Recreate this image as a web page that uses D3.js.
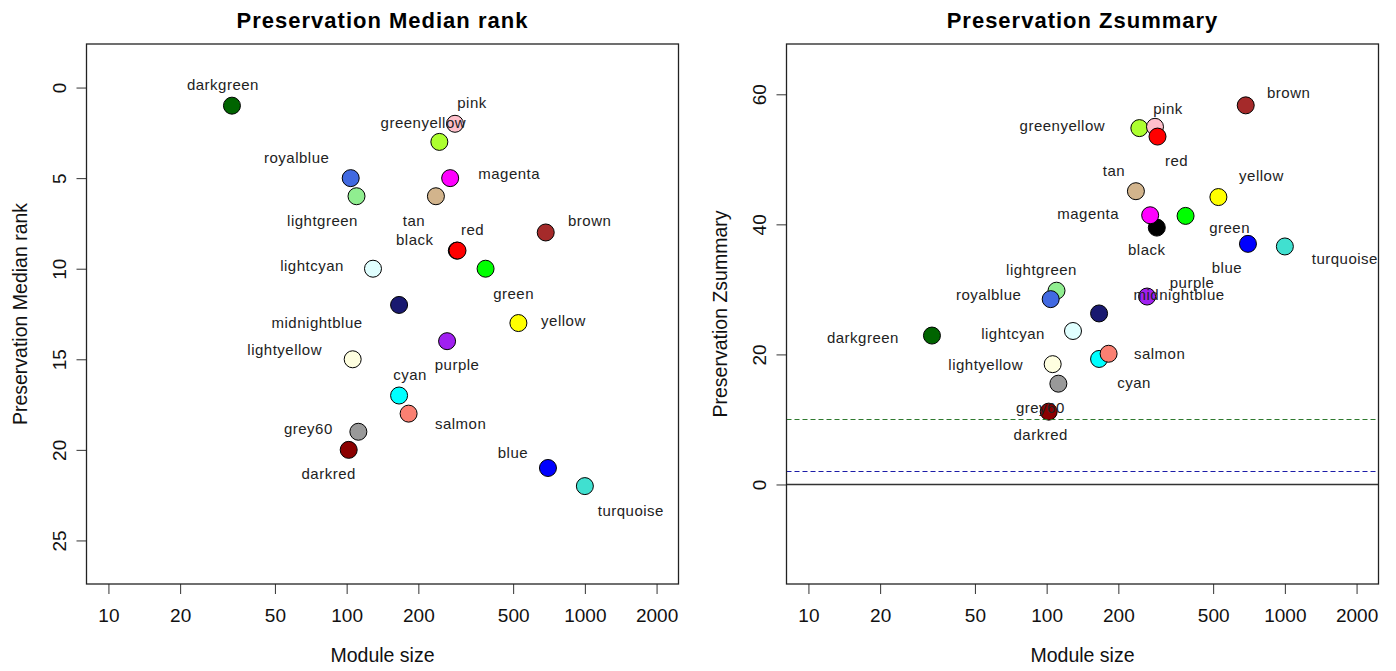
<!DOCTYPE html>
<html>
<head>
<meta charset="utf-8">
<script src="https://cdn.jsdelivr.net/npm/d3@7"></script>
<style>
  html, body { margin: 0; padding: 0; background: #fff; }
  svg { display: block; font-family: "Liberation Sans", Arial, Helvetica, sans-serif; }
</style>
</head>
<body>
<svg id="chart" width="1396" height="671"></svg>
<script>
// ---- data: module preservation statistics (rows in alphabetical module order) ----
const modules = ["black", "blue", "brown", "cyan", "darkgreen", "darkred", "green", "greenyellow",
  "grey60", "lightcyan", "lightgreen", "lightyellow", "magenta", "midnightblue", "pink", "purple",
  "red", "royalblue", "salmon", "tan", "turquoise", "yellow"];
const moduleSizes = [290, 700, 685, 166, 33, 102, 383, 245, 112, 129, 110, 106, 272, 166, 285, 264,
  292, 104, 182, 237, 1000, 526];
const medianRank = [9, 21, 8, 17, 1, 20, 10, 3, 19, 10, 6, 15, 5, 12, 2, 14, 9, 5, 18, 6, 22, 13];
const zSummary = [39.5, 37.0, 58.3, 19.3, 22.9, 11.2, 41.3, 54.8, 15.5, 23.6, 29.8, 18.5, 41.4, 26.3,
  55.0, 28.9, 53.5, 28.5, 20.1, 45.1, 36.6, 44.2];

// axis ticks and limits
const sizeTicks = [10, 20, 50, 100, 200, 500, 1000, 2000];
const sizeLimits = [10, 2000];
const rankTicks = [0, 5, 10, 15, 20, 25];
const rankLimits = [-1.3, 26.3];
const zTicks = [0, 20, 40, 60];
const zLimits = [-12.23, 64.66];
const zReferenceLines = [0, 2, 10];

// ---- presentation ----
// R colour names used for the module fills
const rColors = {
  black: "#000000", blue: "#0000FF", brown: "#A52A2A", cyan: "#00FFFF", darkgreen: "#006400",
  darkred: "#8B0000", green: "#00FF00", greenyellow: "#ADFF2F", grey60: "#999999",
  lightcyan: "#E0FFFF", lightgreen: "#90EE90", lightyellow: "#FFFFE0", magenta: "#FF00FF",
  midnightblue: "#191970", pink: "#FFC0CB", purple: "#A020F0", red: "#FF0000",
  royalblue: "#4169E1", salmon: "#FA8072", tan: "#D2B48C", turquoise: "#40E0D0", yellow: "#FFFF00"
};
const refLineStyle = {
  0: { color: "#333", dash: null, width: 1.4 },
  2: { color: "#1c1ca8", dash: "5,3", width: 1.2 },
  10: { color: "#2f7a2f", dash: "5,3", width: 1.2 }
};
// text placement around each point (pixel offsets of the label centre)
const rankLabelOffsets = {
  darkgreen: [-9, -20], pink: [17, -21], greenyellow: [-16, -19], royalblue: [-54, -20],
  magenta: [59, -4], lightgreen: [-34, 25], tan: [-22, 25], brown: [44, -11], red: [15, -20],
  black: [-42, -10], lightcyan: [-61, -3], green: [28, 25], midnightblue: [-82, 18],
  yellow: [45, -2], lightyellow: [-68, -9], purple: [10, 24], cyan: [11, -20], salmon: [52, 11],
  grey60: [-50, -3], darkred: [-20, 24], blue: [-35, -15], turquoise: [46, 25]
};
const zLabelOffsets = {
  brown: [43, -12], pink: [13, -18], greenyellow: [-77, -2], red: [19, 25], tan: [-22, -20],
  yellow: [43, -21], magenta: [-62, -1], green: [44, 12], black: [-10, 23], blue: [-21, 24],
  turquoise: [60, 13], lightgreen: [-15, -20], royalblue: [-62, -4], purple: [45, -13],
  midnightblue: [80, -18], lightcyan: [-60, 3], darkgreen: [-69, 3], salmon: [51, 0],
  cyan: [35, 24], lightyellow: [-67, 1], grey60: [-18, 25], darkred: [-8, 24]
};

const svg = d3.select("#chart");
svg.append("rect").attr("width", 1396).attr("height", 671).attr("fill", "#fff");

// R-style 4% axis extension
function extend(lim) {
  const d = (lim[1] - lim[0]) * 0.04;
  return [lim[0] - d, lim[1] + d];
}
function extendLog(lim) {
  const l = extend([Math.log10(lim[0]), Math.log10(lim[1])]);
  return [Math.pow(10, l[0]), Math.pow(10, l[1])];
}

const box = { left: 86.5, right: 678.5, top: 44, bottom: 584 };

function drawPanel(opts) {
  const g = svg.append("g").attr("transform", `translate(${opts.x0},0)`);
  const x = d3.scaleLog().domain(extendLog(sizeLimits)).range([box.left, box.right]);
  const yDom = extend(opts.limits);
  const y = d3.scaleLinear().domain(yDom)
    .range(opts.reversed ? [box.top, box.bottom] : [box.bottom, box.top]);
  const cx = (box.left + box.right) / 2;
  const cy = (box.top + box.bottom) / 2;

  // title
  g.append("text").attr("x", cx).attr("y", 27.7).attr("text-anchor", "middle")
    .attr("font-size", 22).attr("font-weight", "bold").attr("letter-spacing", 1)
    .attr("fill", "#000").text(opts.title);

  // x axis
  const xa = g.append("g").attr("transform", `translate(0,${box.bottom})`)
    .call(d3.axisBottom(x).tickValues(sizeTicks).tickFormat(d3.format("d"))
      .tickSize(10).tickPadding(15));
  xa.select(".domain").remove();
  xa.selectAll(".tick line").attr("stroke", "#333");
  xa.selectAll(".tick text").attr("font-size", 19).attr("fill", "#111")
    .attr("font-family", "'Liberation Sans', Arial, sans-serif");

  // y axis with labels parallel to the axis
  const ya = g.append("g").attr("transform", `translate(${box.left},0)`)
    .call(d3.axisLeft(y).tickValues(opts.ticks).tickFormat(d3.format("d")).tickSize(10));
  ya.select(".domain").remove();
  ya.selectAll(".tick line").attr("stroke", "#333");
  ya.selectAll(".tick text").attr("x", null).attr("dy", null)
    .attr("text-anchor", "middle").attr("transform", "translate(-21,0) rotate(-90)")
    .attr("font-size", 19).attr("fill", "#111")
    .attr("font-family", "'Liberation Sans', Arial, sans-serif");

  // axis titles
  g.append("text").attr("x", cx).attr("y", 662).attr("text-anchor", "middle")
    .attr("font-size", 19.5).attr("fill", "#111").text("Module size");
  g.append("text").attr("transform", `translate(26.7,${cy}) rotate(-90)`)
    .attr("text-anchor", "middle").attr("font-size", 19.5).attr("fill", "#111")
    .text(opts.title);

  const rows = modules.map((m, i) => ({ name: m, size: moduleSizes[i], value: opts.values[i] }));

  // points
  g.append("g").selectAll("circle").data(rows).join("circle")
    .attr("cx", d => x(d.size)).attr("cy", d => y(d.value)).attr("r", 8.5)
    .attr("fill", d => rColors[d.name]).attr("stroke", "#000").attr("stroke-width", 1);

  // point labels
  g.append("g").selectAll("text").data(rows).join("text")
    .attr("x", d => x(d.size) + opts.offsets[d.name][0])
    .attr("y", d => y(d.value) + opts.offsets[d.name][1])
    .attr("dy", "0.32em").attr("text-anchor", "middle")
    .attr("font-size", 15).attr("letter-spacing", 0.5).attr("fill", "#222")
    .text(d => d.name);

  // reference lines, snapped to the pixel grid
  if (opts.refLines) {
    const snap = v => Math.round(y(v)) + 0.5;
    g.append("g").selectAll("line").data(opts.refLines).join("line")
      .attr("x1", box.left).attr("x2", box.right)
      .attr("y1", snap).attr("y2", snap)
      .attr("stroke", d => refLineStyle[d].color)
      .attr("stroke-width", d => refLineStyle[d].width)
      .attr("stroke-dasharray", d => refLineStyle[d].dash);
  }

  // plot frame
  g.append("rect").attr("x", box.left).attr("y", box.top)
    .attr("width", box.right - box.left).attr("height", box.bottom - box.top)
    .attr("fill", "none").attr("stroke", "#222").attr("stroke-width", 1.3);
}

drawPanel({
  x0: 0, title: "Preservation Median rank", values: medianRank, limits: rankLimits,
  reversed: true, ticks: rankTicks, offsets: rankLabelOffsets
});
drawPanel({
  x0: 700, title: "Preservation Zsummary", values: zSummary, limits: zLimits,
  reversed: false, ticks: zTicks, offsets: zLabelOffsets, refLines: zReferenceLines
});
</script>
</body>
</html>
